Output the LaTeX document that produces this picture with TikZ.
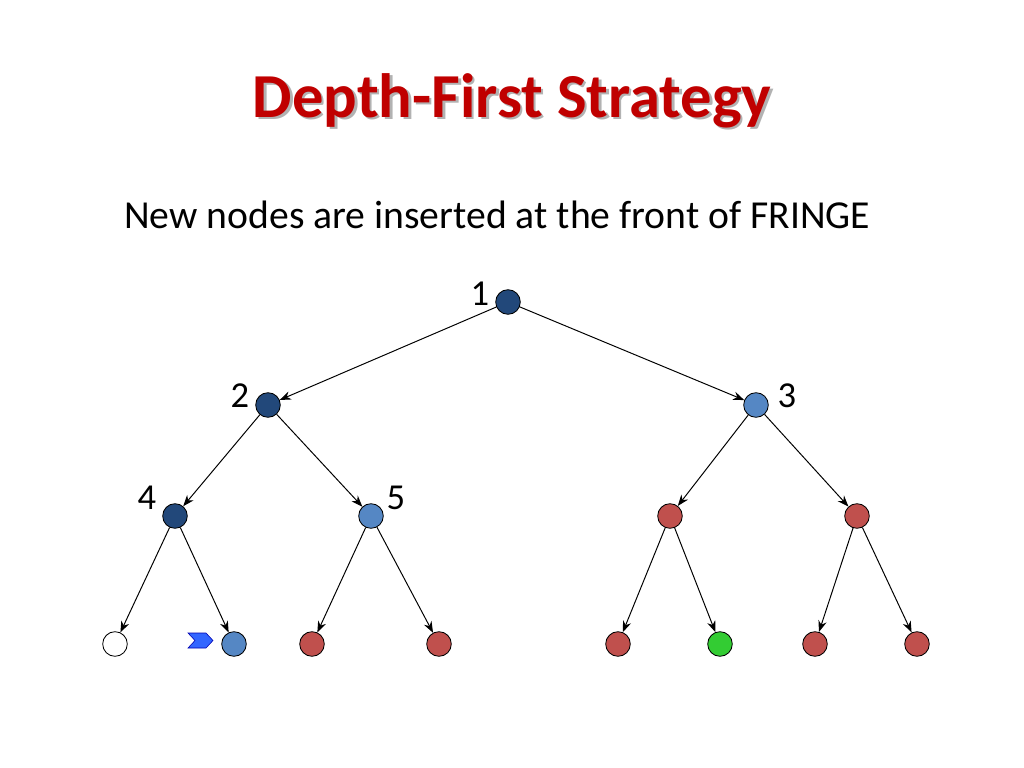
\documentclass[tikz,border=0pt]{standalone}
\usepackage{fontspec}
\setmainfont{Carlito}
\usepackage{tikz}
\usetikzlibrary{arrows.meta}

\definecolor{darkblue}{HTML}{22487A}
\definecolor{lightblue}{HTML}{5587C4}
\definecolor{nodered}{HTML}{C0504D}
\definecolor{nodegreen}{HTML}{33CC33}
\definecolor{titlered}{HTML}{C00000}
\definecolor{chevblue}{HTML}{3366FF}

\newcommand{\shadowtext}[1]{\rlap{\kern1.8pt\raisebox{-1.8pt}{\color{black!30}#1}}#1}

\tikzset{
  tnode/.style={circle,draw=black,line width=0.6pt,minimum size=17.5pt,inner sep=0pt},
  edge/.style={-{Stealth[length=8pt,width=6pt]},line width=0.7pt},
  lbl/.style={font=\fontsize{26}{30}\selectfont}
}

\begin{document}
\begin{tikzpicture}[x=0.025cm,y=-0.025cm]
\useasboundingbox (0,0) rectangle (1024,768);
\fill[white] (0,0) rectangle (1024,768);
% title
\node (title) [text=titlered,font=\bfseries\fontsize{44.5}{52}\selectfont] at (512,102) {\shadowtext{Depth-First Strategy}};
\node (sub) [anchor=base west,font=\fontsize{28.2}{34}\selectfont,inner sep=0pt] at (124,228) {New nodes are inserted at the front of FRINGE};
% tree
\node[tnode,fill=darkblue] (n1) at (508,302) {};
\node[tnode,fill=darkblue] (n2) at (268,405) {};
\node[tnode,fill=lightblue] (n3) at (756,405) {};
\node[tnode,fill=darkblue] (n4) at (175,516) {};
\node[tnode,fill=lightblue] (n5) at (371,516) {};
\node[tnode,fill=nodered] (n6) at (670,516) {};
\node[tnode,fill=nodered] (n7) at (857,516) {};
\node[tnode,fill=white] (n8) at (115,644) {};
\node[tnode,fill=lightblue] (n9) at (234,644) {};
\node[tnode,fill=nodered] (n10) at (312,644) {};
\node[tnode,fill=nodered] (n11) at (439,644) {};
\node[tnode,fill=nodered] (n12) at (618,644) {};
\node[tnode,fill=nodegreen] (n13) at (720,644) {};
\node[tnode,fill=nodered] (n14) at (815,644) {};
\node[tnode,fill=nodered] (n15) at (917,644) {};
% labels
\node[lbl] (l1) at (480,294) {1};
\node[lbl] (l2) at (240,396) {2};
\node[lbl] (l3) at (787,396) {3};
\node[lbl] (l4) at (147,498) {4};
\node[lbl] (l5) at (396,498) {5};
% edges
\draw[edge] (n1) -- (n2);
\draw[edge] (n1) -- (n3);
\draw[edge] (n2) -- (n4);
\draw[edge] (n2) -- (n5);
\draw[edge] (n3) -- (n6);
\draw[edge] (n3) -- (n7);
\draw[edge] (n4) -- (n8);
\draw[edge] (n4) -- (n9);
\draw[edge] (n5) -- (n10);
\draw[edge] (n5) -- (n11);
\draw[edge] (n6) -- (n12);
\draw[edge] (n6) -- (n13);
\draw[edge] (n7) -- (n14);
\draw[edge] (n7) -- (n15);
% current node marker
\draw[fill=chevblue,draw=blue!70!black,thin] (188,633) -- (206,633) -- (213,640.5) -- (206,648) -- (188,648) -- (195,640.5) -- cycle;
\end{tikzpicture}
\end{document}
